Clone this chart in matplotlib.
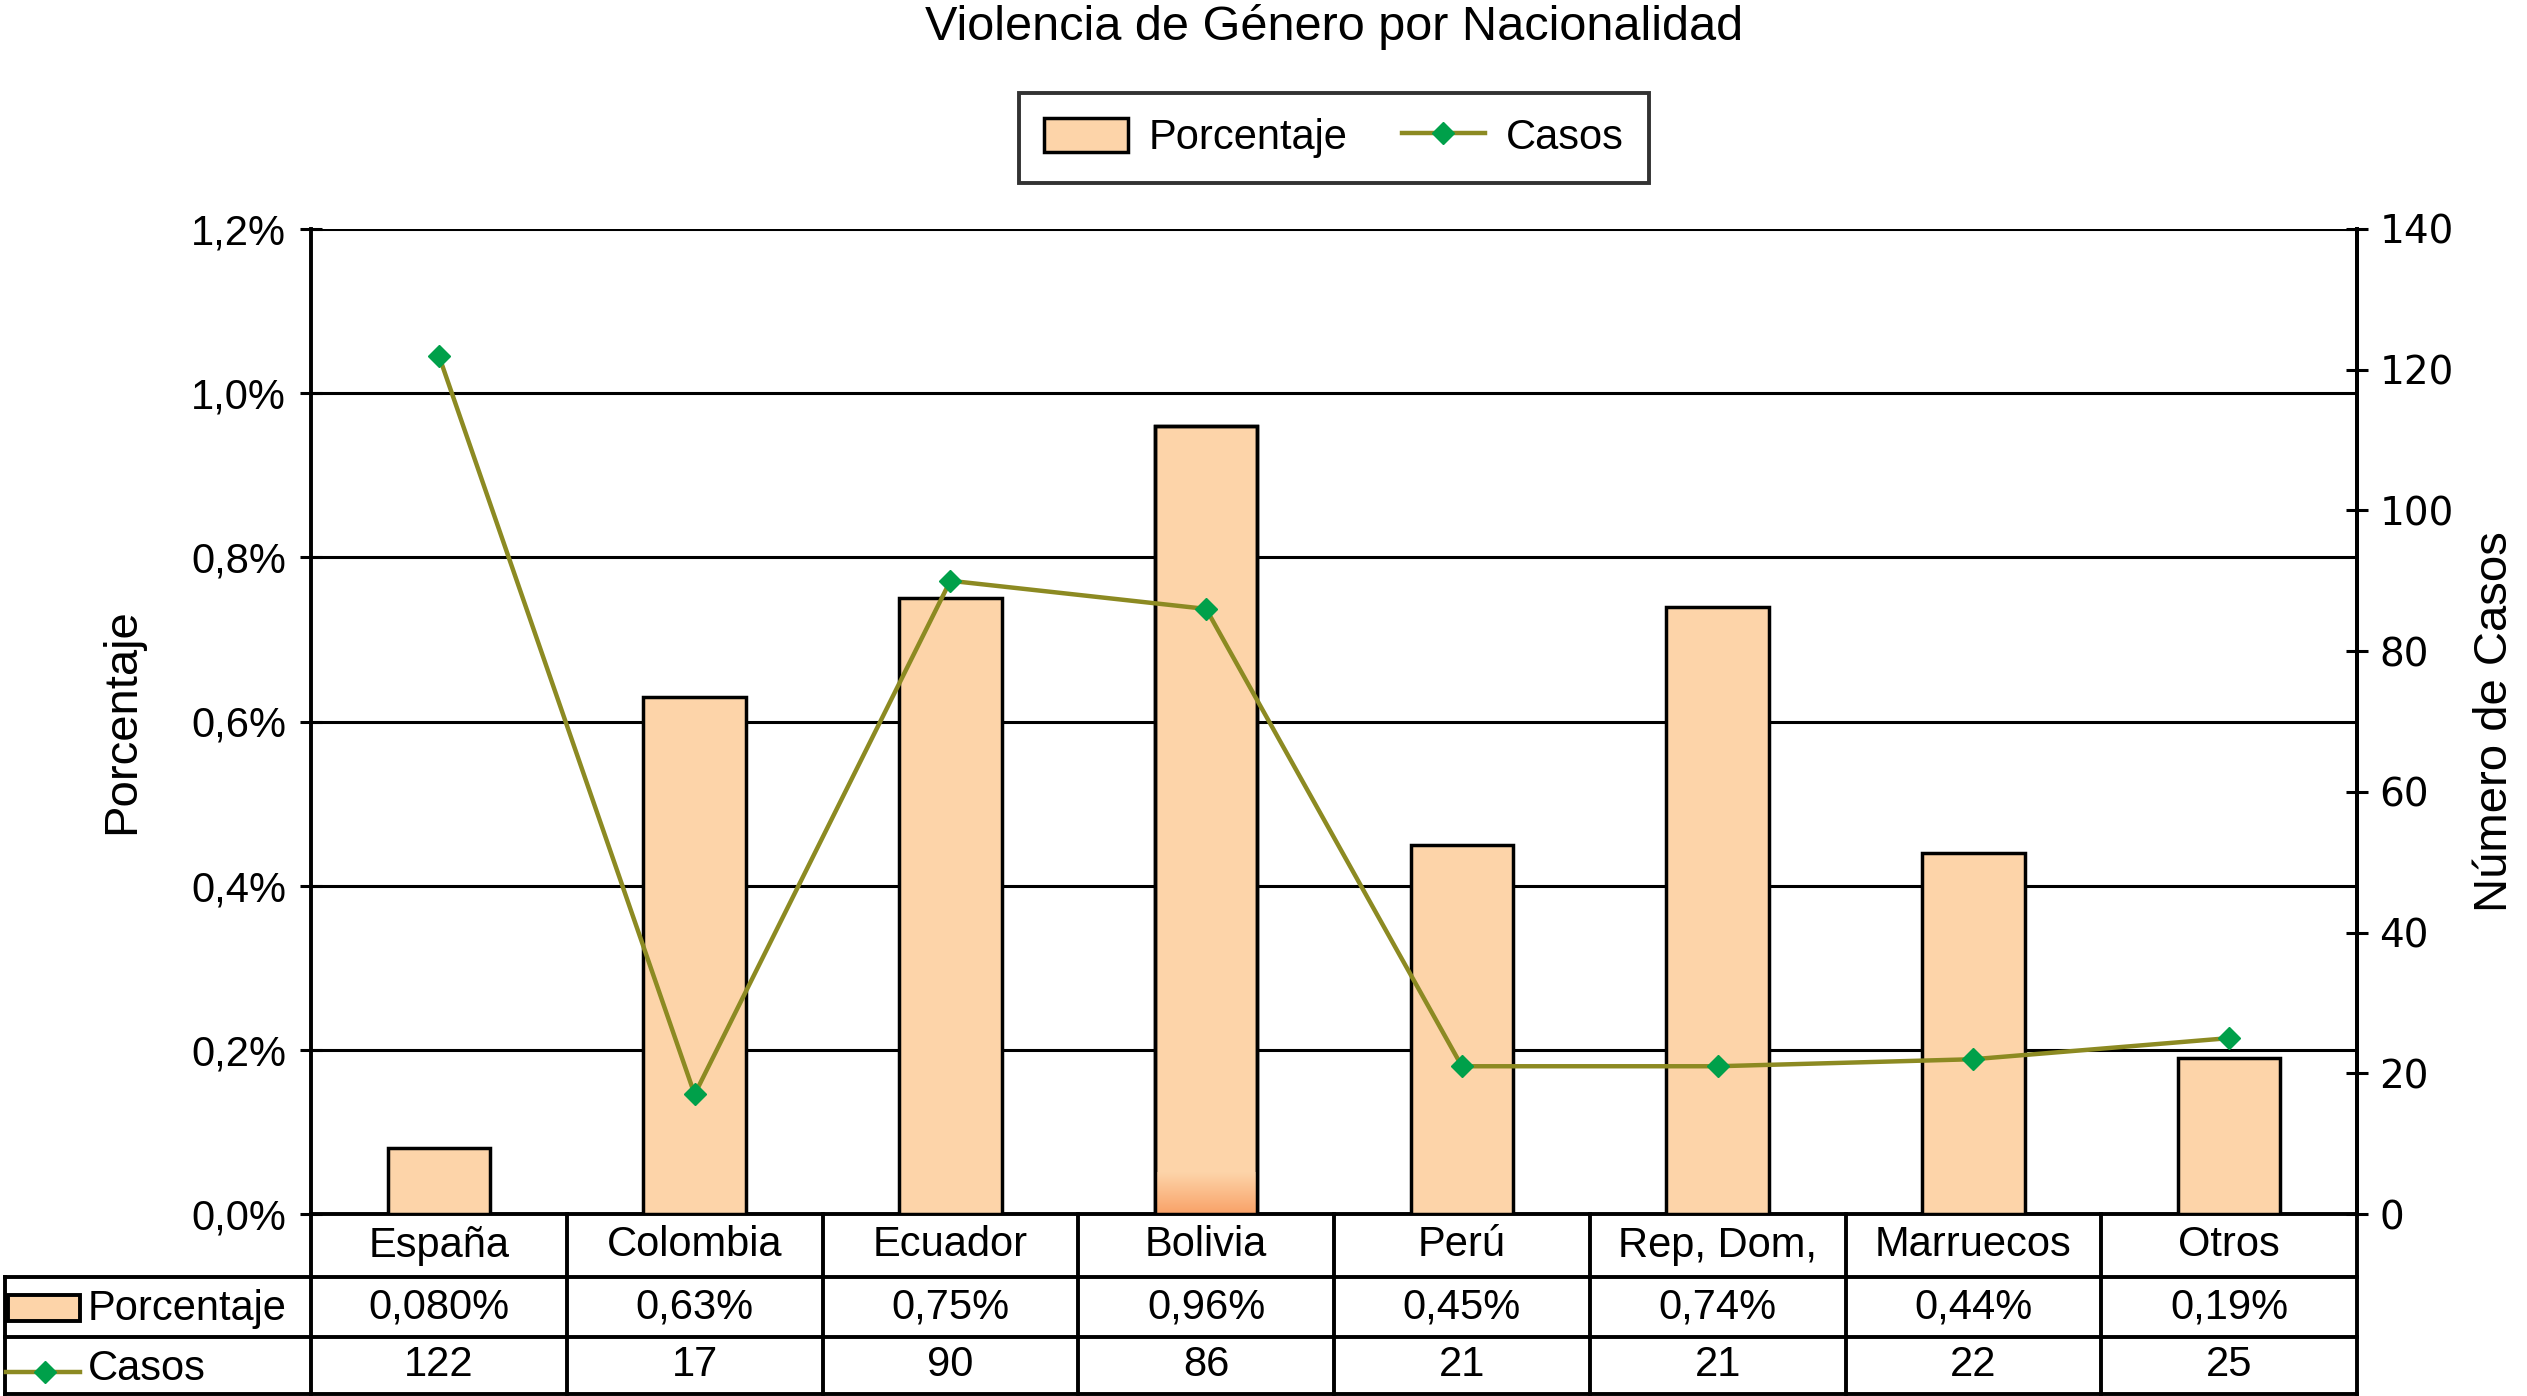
import numpy as np
import matplotlib.pyplot as plt
from matplotlib.patches import Rectangle
from matplotlib.lines import Line2D
from matplotlib.transforms import blended_transform_factory
from matplotlib.colors import LinearSegmentedColormap

plt.rcParams['font.family'] = ['Liberation Sans', 'DejaVu Sans']

paises = ["España", "Colombia", "Ecuador", "Bolivia", "Perú", "Rep, Dom,", "Marruecos", "Otros"]
porcentaje = [0.080, 0.63, 0.75, 0.96, 0.45, 0.74, 0.44, 0.19]
porcentaje_txt = ["0,080%", "0,63%", "0,75%", "0,96%", "0,45%", "0,74%", "0,44%", "0,19%"]
casos = [122, 17, 90, 86, 21, 21, 22, 25]

bar_color = "#fdd4a9"
line_color = "#8c8a22"
marker_color = "#00a04a"
fs = 30

W, H = 2527, 1396
fig = plt.figure(figsize=(W / 100, H / 100), dpi=100)
left, right, top, bottom = 311, 2357, 229, 1214
ax = fig.add_axes([left / W, 1 - bottom / H, (right - left) / W, (bottom - top) / H])

x = np.arange(len(paises))
bars = ax.bar(x, porcentaje, width=0.4, color=bar_color, edgecolor="black", linewidth=2.5, zorder=3)

# gradiente en la base de la barra de Bolivia
b = bars[3]
grad = np.linspace(1, 0, 50).reshape(-1, 1)
cmap = LinearSegmentedColormap.from_list("g", [bar_color, "#f9a268"])
ax.imshow(grad, extent=[b.get_x(), b.get_x() + b.get_width(), 0, 0.05], aspect="auto",
          cmap=cmap, zorder=3.5, origin="lower")
ax.add_patch(Rectangle((b.get_x(), 0), b.get_width(), b.get_height(), fill=False,
                       edgecolor="black", linewidth=2.5, zorder=4))

ax.set_xlim(-0.5, len(paises) - 0.5)
ax.set_ylim(0, 1.2)
ax.set_yticks(np.arange(0, 1.21, 0.2))
ax.set_yticklabels([f"{v:.1f}%".replace(".", ",") for v in np.arange(0, 1.21, 0.2)], fontsize=fs)
ax.set_xticks([])
ax.grid(axis="y", color="black", linewidth=2.2, zorder=1)
ax.set_axisbelow(True)
for s in ["top", "bottom"]:
    ax.spines[s].set_visible(False)
ax.spines["left"].set_linewidth(2.8)
ax.spines["right"].set_linewidth(2.8)
ax.tick_params(axis="y", direction="inout", length=16, width=2.2, pad=10)
ax.set_ylabel("Porcentaje", fontsize=34, labelpad=34)

ax2 = ax.twinx()
ax2.plot(x, casos, color=line_color, linewidth=3.2, marker="D", markersize=11,
         markerfacecolor=marker_color, markeredgecolor=marker_color, zorder=5)
ax2.set_ylim(0, 140)
ax2.set_yticks(range(0, 141, 20))
ax2.tick_params(axis="y", direction="inout", length=16, width=2.2, pad=8, labelsize=28)
for lbl in ax2.get_yticklabels():
    lbl.set_family("DejaVu Sans")
for s in ["top", "bottom", "left"]:
    ax2.spines[s].set_visible(False)
ax2.spines["right"].set_linewidth(2.8)
ax2.set_ylabel("Número de Casos", fontsize=34, labelpad=14)

fig.suptitle("Violencia de Género por Nacionalidad", fontsize=35,
             x=(left + right) / 2 / W, y=0.997)

handles = [Rectangle((0, 0), 1, 1, facecolor=bar_color, edgecolor="black", linewidth=2.5),
           Line2D([], [], color=line_color, linewidth=3.2, marker="D", markersize=11,
                  markerfacecolor=marker_color, markeredgecolor=marker_color)]
leg = fig.legend(handles, ["Porcentaje", "Casos"], loc="center",
                 bbox_to_anchor=((left + right) / 2 / W, 1 - 138 / H), ncol=2, fontsize=fs,
                 frameon=True, fancybox=False, edgecolor="black", borderpad=0.6,
                 handlelength=2.0, handleheight=0.9, columnspacing=1.3, handletextpad=0.5)
leg.get_frame().set_linewidth(2.8)

# tabla de datos bajo el gráfico
tr = blended_transform_factory(ax.transData, ax.transAxes)
ph = bottom - top
rows = [0, -63 / ph, -123 / ph, -180 / ph]
x_fig0 = ax.transData.inverted().transform(fig.transFigure.transform((0.002, 0)))[0]
kw = dict(transform=tr, clip_on=False, color="black", linewidth=2.8)
n = len(paises)
for i, yv in enumerate(rows):
    x0 = -0.5 if i == 0 else x_fig0
    ax.add_line(Line2D([x0, n - 0.5], [yv, yv], **kw))
for k in range(n + 1):
    ax.add_line(Line2D([k - 0.5, k - 0.5], [rows[0], rows[3]], **kw))
ax.add_line(Line2D([x_fig0, x_fig0], [rows[1], rows[3]], **kw))

for i in range(n):
    ax.text(i, (rows[0] + rows[1]) / 2, paises[i], transform=tr, ha="center", va="center", fontsize=fs)
    ax.text(i, (rows[1] + rows[2]) / 2, porcentaje_txt[i], transform=tr, ha="center", va="center", fontsize=fs)
    ax.text(i, (rows[2] + rows[3]) / 2, str(casos[i]), transform=tr, ha="center", va="center", fontsize=fs)

# claves de la tabla
fig.add_artist(Rectangle((8 / W, 1 - 1321 / H), 72 / W, 26 / H, facecolor=bar_color,
                         edgecolor="black", linewidth=2.8, transform=fig.transFigure))
fig.text(88 / W, 1 - 1309 / H, "Porcentaje", fontsize=fs, va="center", ha="left")
fig.add_artist(Line2D([6 / W, 80 / W], [1 - 1372 / H, 1 - 1372 / H], color=line_color, linewidth=3.2,
                      transform=fig.transFigure))
fig.add_artist(Line2D([45 / W], [1 - 1372 / H], marker="D", markersize=11, color=marker_color,
                      transform=fig.transFigure))
fig.text(88 / W, 1 - 1369 / H, "Casos", fontsize=fs, va="center", ha="left")

fig.savefig("out.png", dpi=100)
